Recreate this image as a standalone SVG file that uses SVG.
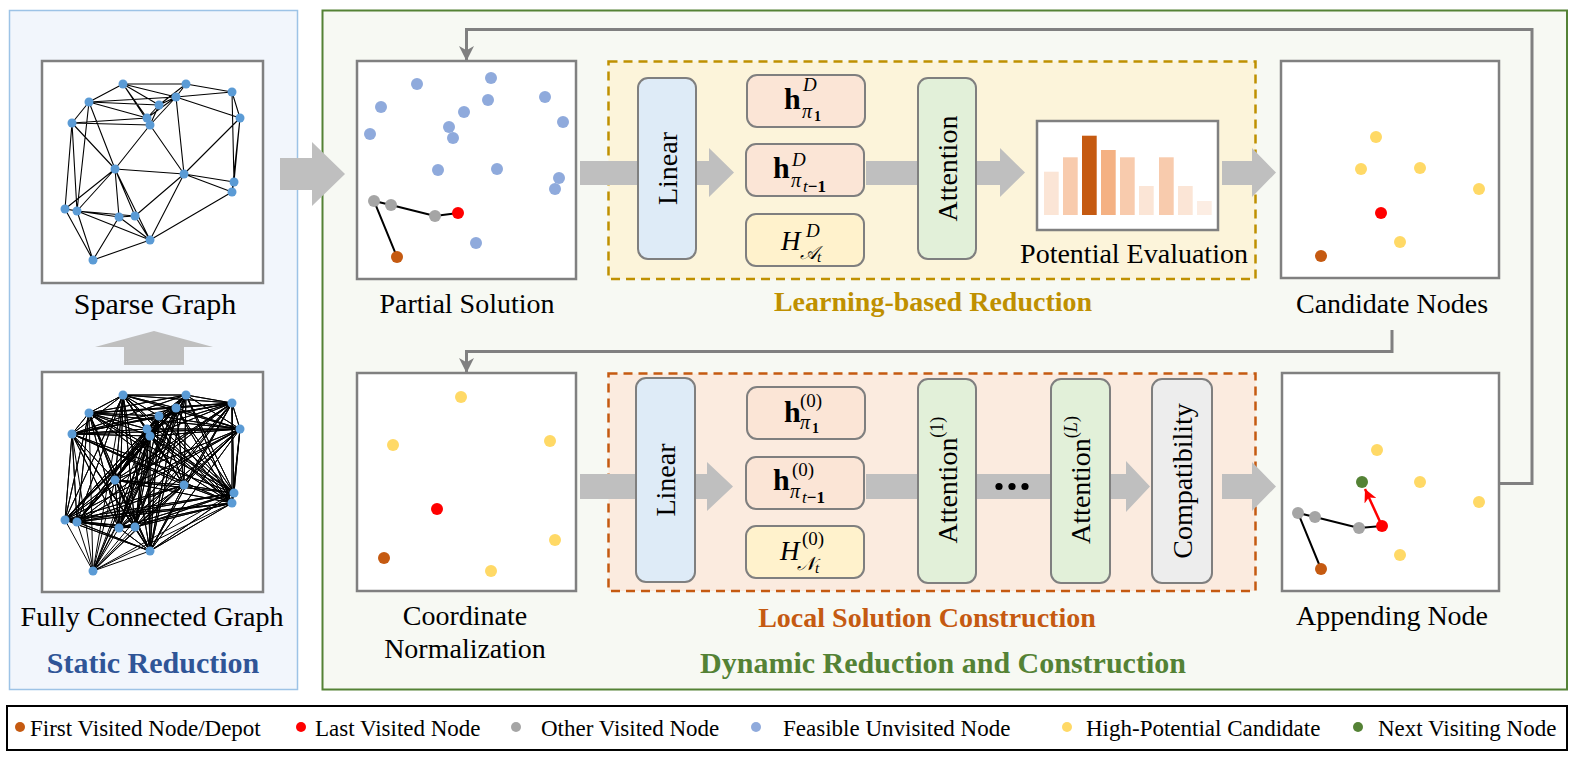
<svg xmlns="http://www.w3.org/2000/svg" xmlns:xlink="http://www.w3.org/1999/xlink" width="1579" height="760" viewBox="0 0 1579 760">
<style>
text{font-family:"Liberation Serif","Times New Roman",serif;fill:#000}
.lbl{font-size:28px;text-anchor:middle}
.leg{font-size:23px}
.frame{fill:#fff;stroke:#808080;stroke-width:2.5}
.blk{stroke:#7f7f7f;stroke-width:2}
.garrow{fill:#BFBFBF}
.fb{fill:none;stroke:#808080;stroke-width:3}
.edge{fill:none;stroke:#000;stroke-width:1.1}
.full polyline{fill:none;stroke:#000;stroke-width:1;stroke-linejoin:round}
.rot{font-size:28px;text-anchor:middle;dominant-baseline:central}
.hb{font-size:30px;font-weight:bold}
.it{font-style:italic}
.title{font-weight:bold;text-anchor:middle}
.scr{font-family:"DejaVu Serif","DejaVu Sans","Noto Sans",serif}
</style>
<defs>
<marker id="ga" viewBox="0 0 14 14" refX="14" refY="7" markerWidth="15" markerHeight="15" markerUnits="userSpaceOnUse" orient="auto"><path d="M0,0 L14,7 L0,14 L4,7 z" fill="#808080"/></marker>
<marker id="ra" viewBox="0 0 14 14" refX="14" refY="7" markerWidth="13" markerHeight="13" markerUnits="userSpaceOnUse" orient="auto"><path d="M0,0 L14,7 L0,14 L4,7 z" fill="#FF0000"/></marker>
<g id="gnodes" fill="#5B9BD5">
<circle cx="123" cy="84" r="4.5"/><circle cx="186" cy="84" r="4.5"/><circle cx="232" cy="92" r="4.5"/><circle cx="89" cy="102" r="4.5"/><circle cx="176" cy="97" r="4.5"/><circle cx="159" cy="105" r="4.5"/><circle cx="240" cy="118" r="4.5"/><circle cx="72" cy="123" r="4.5"/><circle cx="147" cy="118" r="4.5"/><circle cx="150" cy="125" r="4.5"/><circle cx="115" cy="169" r="4.5"/><circle cx="184" cy="174" r="4.5"/><circle cx="234" cy="182" r="4.5"/><circle cx="232" cy="192" r="4.5"/><circle cx="65" cy="209" r="4.5"/><circle cx="77" cy="211" r="4.5"/><circle cx="119" cy="217" r="4.5"/><circle cx="135" cy="216" r="4.5"/><circle cx="150" cy="240" r="4.5"/><circle cx="93" cy="260" r="4.5"/>
</g>
</defs>

<!-- panels -->
<g id="static-panel">
<rect x="9.5" y="10.5" width="288" height="679" fill="#F2F6FC" stroke="#9DC3E6" stroke-width="1.5"/>
<text x="153" y="673" class="title" font-size="30" style="fill:#2F5597">Static Reduction</text>
</g>
<g id="dynamic-panel">
<rect x="322.5" y="10.5" width="1244.5" height="679" fill="#F7F9F3" stroke="#548235" stroke-width="2"/>
<text x="943" y="673" class="title" font-size="30" style="fill:#548235">Dynamic Reduction and Construction</text>
</g>
<g id="learning-panel">
<rect x="608.5" y="61.5" width="647" height="217.5" fill="#FCF4DA" stroke="#BF9000" stroke-width="2.5" stroke-dasharray="9,6"/>
<text x="933" y="311" class="title" font-size="28" style="fill:#BF9000">Learning-based Reduction</text>
</g>
<g id="local-panel">
<rect x="608.5" y="373.5" width="647" height="217.5" fill="#FBEBDF" stroke="#C55A11" stroke-width="2.5" stroke-dasharray="9,6"/>
<text x="927" y="627" class="title" font-size="28" style="fill:#C55A11">Local Solution Construction</text>
</g>

<!-- connectors -->
<g id="connectors">
<polygon class="garrow" points="280,158 312,158 312,142 345,174 312,206 312,190 280,190"/>
<polygon class="garrow" points="124,365 124,347 95,347 154,331 213,347 184,347 184,365"/>
<rect class="garrow" x="580" y="161" width="62" height="24"/>
<polygon class="garrow" points="690,161 709,161 709,148 734,172.5 709,197 709,185 690,185"/>
<rect class="garrow" x="866" y="161" width="60" height="24"/>
<polygon class="garrow" points="970,161 1000,161 1000,148 1025,172.5 1000,197 1000,185 970,185"/>
<polygon class="garrow" points="1222,161 1252,161 1252,148 1276,172.5 1252,197 1252,185 1222,185"/>
<rect class="garrow" x="580" y="474" width="62" height="25"/>
<polygon class="garrow" points="690,474 707,474 707,462 733,486.5 707,511 707,499 690,499"/>
<rect class="garrow" x="866" y="474" width="60" height="25"/>
<rect class="garrow" x="970" y="474" width="86" height="25"/>
<polygon class="garrow" points="1105,474 1126,474 1126,461 1150,486.5 1126,512 1126,499 1105,499"/>
<polygon class="garrow" points="1222,474 1252,474 1252,462 1276,486.5 1252,511 1252,499 1222,499"/>
<g fill="#000"><circle cx="999" cy="486.5" r="3.6"/><circle cx="1012" cy="486.5" r="3.6"/><circle cx="1025" cy="486.5" r="3.6"/></g>
<path class="fb" d="M1499,483.5 H1532 V29.5 H466.5 V61" marker-end="url(#ga)"/>
<path class="fb" d="M1392,330 V351.5 H466.5 V373" marker-end="url(#ga)"/>
</g>

<!-- sparse graph -->
<g id="sparse-graph">
<rect class="frame" x="42" y="61" width="221" height="222"/>
<path class="edge" d="M123 84L186 84M123 84L89 102M123 84L159 105M123 84L147 118M123 84L150 125M123 84L176 97M186 84L232 92M186 84L176 97M186 84L159 105M232 92L176 97M232 92L240 118M89 102L176 97M89 102L159 105M89 102L72 123M89 102L147 118M89 102L115 169M89 102L77 211M176 97L159 105M176 97L147 118M176 97L150 125M176 97L184 174M159 105L147 118M159 105L150 125M240 118L176 97M240 118L184 174M240 118L234 182M240 118L232 192M232 92L234 182M72 123L147 118M72 123L150 125M72 123L115 169M72 123L65 209M72 123L77 211M147 118L150 125M150 125L115 169M150 125L184 174M115 169L184 174M115 169L65 209M115 169L77 211M115 169L119 217M115 169L135 216M115 169L150 240M184 174L234 182M184 174L232 192M184 174L150 240M184 174L135 216M234 182L232 192M232 192L150 240M65 209L77 211M65 209L93 260M77 211L119 217M77 211L135 216M77 211L150 240M77 211L93 260M119 217L135 216M119 217L150 240M119 217L93 260M135 216L150 240M150 240L93 260M65 209L119 217"/>
<use xlink:href="#gnodes" href="#gnodes"/>
<text x="155" y="314" class="lbl" font-size="30" style="font-size:30px">Sparse Graph</text>
</g>

<!-- fully connected graph -->
<g id="full-graph">
<rect class="frame" x="42" y="372" width="221" height="220"/>
<g class="full" transform="translate(0,311)">
<polyline points="123,84 186,84 123,84 232,92 123,84 89,102 123,84 176,97 123,84 159,105 123,84 240,118 123,84 72,123 123,84 147,118 123,84 150,125 123,84 115,169 123,84 184,174 123,84 234,182 123,84 232,192 123,84 65,209 123,84 77,211 123,84 119,217 123,84 135,216 123,84 150,240 123,84 93,260"/>
<polyline points="186,84 232,92 186,84 89,102 186,84 176,97 186,84 159,105 186,84 240,118 186,84 72,123 186,84 147,118 186,84 150,125 186,84 115,169 186,84 184,174 186,84 234,182 186,84 232,192 186,84 65,209 186,84 77,211 186,84 119,217 186,84 135,216 186,84 150,240 186,84 93,260"/>
<polyline points="232,92 89,102 232,92 176,97 232,92 159,105 232,92 240,118 232,92 72,123 232,92 147,118 232,92 150,125 232,92 115,169 232,92 184,174 232,92 234,182 232,92 232,192 232,92 65,209 232,92 77,211 232,92 119,217 232,92 135,216 232,92 150,240 232,92 93,260"/>
<polyline points="89,102 176,97 89,102 159,105 89,102 240,118 89,102 72,123 89,102 147,118 89,102 150,125 89,102 115,169 89,102 184,174 89,102 234,182 89,102 232,192 89,102 65,209 89,102 77,211 89,102 119,217 89,102 135,216 89,102 150,240 89,102 93,260"/>
<polyline points="176,97 159,105 176,97 240,118 176,97 72,123 176,97 147,118 176,97 150,125 176,97 115,169 176,97 184,174 176,97 234,182 176,97 232,192 176,97 65,209 176,97 77,211 176,97 119,217 176,97 135,216 176,97 150,240 176,97 93,260"/>
<polyline points="159,105 240,118 159,105 72,123 159,105 147,118 159,105 150,125 159,105 115,169 159,105 184,174 159,105 234,182 159,105 232,192 159,105 65,209 159,105 77,211 159,105 119,217 159,105 135,216 159,105 150,240 159,105 93,260"/>
<polyline points="240,118 72,123 240,118 147,118 240,118 150,125 240,118 115,169 240,118 184,174 240,118 234,182 240,118 232,192 240,118 65,209 240,118 77,211 240,118 119,217 240,118 135,216 240,118 150,240 240,118 93,260"/>
<polyline points="72,123 147,118 72,123 150,125 72,123 115,169 72,123 184,174 72,123 234,182 72,123 232,192 72,123 65,209 72,123 77,211 72,123 119,217 72,123 135,216 72,123 150,240 72,123 93,260"/>
<polyline points="147,118 150,125 147,118 115,169 147,118 184,174 147,118 234,182 147,118 232,192 147,118 65,209 147,118 77,211 147,118 119,217 147,118 135,216 147,118 150,240 147,118 93,260"/>
<polyline points="150,125 115,169 150,125 184,174 150,125 234,182 150,125 232,192 150,125 65,209 150,125 77,211 150,125 119,217 150,125 135,216 150,125 150,240 150,125 93,260"/>
<polyline points="115,169 184,174 115,169 234,182 115,169 232,192 115,169 65,209 115,169 77,211 115,169 119,217 115,169 135,216 115,169 150,240 115,169 93,260"/>
<polyline points="184,174 234,182 184,174 232,192 184,174 65,209 184,174 77,211 184,174 119,217 184,174 135,216 184,174 150,240 184,174 93,260"/>
<polyline points="234,182 232,192 234,182 65,209 234,182 77,211 234,182 119,217 234,182 135,216 234,182 150,240 234,182 93,260"/>
<polyline points="232,192 65,209 232,192 77,211 232,192 119,217 232,192 135,216 232,192 150,240 232,192 93,260"/>
<polyline points="65,209 77,211 65,209 119,217 65,209 135,216 65,209 150,240 65,209 93,260"/>
<polyline points="77,211 119,217 77,211 135,216 77,211 150,240 77,211 93,260"/>
<polyline points="119,217 135,216 119,217 150,240 119,217 93,260"/>
<polyline points="135,216 150,240 135,216 93,260"/>
<polyline points="150,240 93,260"/>
<use xlink:href="#gnodes" href="#gnodes"/>
</g>
<text x="152" y="626" class="lbl">Fully Connected Graph</text>
</g>

<!-- partial solution -->
<g id="partial-solution">
<rect class="frame" x="357" y="61" width="219" height="218"/>
<g fill="#8FAADC">
<circle cx="417" cy="84" r="6"/><circle cx="491" cy="78" r="6"/><circle cx="381" cy="107" r="6"/><circle cx="464" cy="112" r="6"/><circle cx="488" cy="100" r="6"/><circle cx="545" cy="97" r="6"/><circle cx="563" cy="122" r="6"/><circle cx="370" cy="134" r="6"/><circle cx="449" cy="127" r="6"/><circle cx="453" cy="138" r="6"/><circle cx="438" cy="170" r="6"/><circle cx="497" cy="169" r="6"/><circle cx="559" cy="178" r="6"/><circle cx="555" cy="189" r="6"/><circle cx="476" cy="243" r="6"/>
</g>
<polyline points="397,257 374,201 391,205 435,216 458,213" fill="none" stroke="#000" stroke-width="2"/>
<circle cx="374" cy="201" r="6" fill="#A5A5A5"/><circle cx="391" cy="205" r="6" fill="#A5A5A5"/><circle cx="435" cy="216" r="6" fill="#A5A5A5"/>
<circle cx="458" cy="213" r="6" fill="#FF0000"/><circle cx="397" cy="257" r="6" fill="#C55A11"/>
<text x="467" y="313" class="lbl">Partial Solution</text>
</g>

<!-- learning-based reduction blocks -->
<g id="linear-top">
<rect class="blk" x="638" y="78" width="58" height="181" rx="10" fill="#DEEBF7"/>
<text class="rot" transform="translate(667,168.5) rotate(-90)">Linear</text>
</g>
<g id="h-pi1-top">
<rect class="blk" x="747" y="75" width="118" height="52" rx="10" fill="#FBE5D6"/>
<text x="784" y="109" class="hb">h</text>
<text x="803" y="91" class="it" font-size="19">D</text>
<text x="802" y="118" class="it" font-size="20">π</text>
<text x="814" y="121" font-size="14" font-weight="bold">1</text>
</g>
<g id="h-pit-top">
<rect class="blk" x="746" y="144" width="118" height="52" rx="10" fill="#FBE5D6"/>
<text x="773" y="178" class="hb">h</text>
<text x="792" y="166" class="it" font-size="19">D</text>
<text x="791" y="187" class="it" font-size="20">π</text>
<text x="803" y="192" font-size="17"><tspan font-style="italic">t</tspan><tspan font-weight="bold">−1</tspan></text>
</g>
<g id="H-A-top">
<rect class="blk" x="746" y="214" width="118" height="52" rx="10" fill="#FFF2CC"/>
<text x="781" y="250" class="it" font-size="27">H</text>
<text x="806" y="237" class="it" font-size="19">D</text>
<text x="800" y="259" class="it scr" font-size="19">𝒜</text>
<text x="817" y="262" class="it" font-size="15">t</text>
</g>
<g id="attention-top">
<rect class="blk" x="918" y="78" width="58" height="181" rx="10" fill="#E2F0D9"/>
<text class="rot" transform="translate(947,168.5) rotate(-90)">Attention</text>
</g>
<g id="potential-evaluation">
<rect x="1037" y="121" width="181" height="109" fill="#fff" stroke="#808080" stroke-width="2.5"/>
<rect x="1044" y="171.7" width="14.7" height="43.3" fill="#FBE5D6"/>
<rect x="1063" y="157.3" width="14.7" height="57.7" fill="#F8CBAD"/>
<rect x="1082" y="135.7" width="14.7" height="79.3" fill="#C55A11"/>
<rect x="1101" y="150" width="14.7" height="65" fill="#F4B183"/>
<rect x="1120" y="157.3" width="14.7" height="57.7" fill="#F8CBAD"/>
<rect x="1139" y="186" width="14.7" height="29" fill="#FBE5D6"/>
<rect x="1159" y="157.3" width="14.7" height="57.7" fill="#F8CBAD"/>
<rect x="1178" y="186" width="14.7" height="29" fill="#FBE5D6"/>
<rect x="1197" y="201" width="14.7" height="14" fill="#FCEDE3"/>
<text x="1134" y="263" class="lbl">Potential Evaluation</text>
</g>

<!-- candidate nodes -->
<g id="candidate-nodes">
<rect class="frame" x="1281" y="61" width="218" height="217"/>
<g fill="#FFD966"><circle cx="1376" cy="137" r="6"/><circle cx="1361" cy="169" r="6"/><circle cx="1420" cy="168" r="6"/><circle cx="1479" cy="189" r="6"/><circle cx="1400" cy="242" r="6"/></g>
<circle cx="1381" cy="213" r="6" fill="#FF0000"/><circle cx="1321" cy="256" r="6" fill="#C55A11"/>
<text x="1392" y="313" class="lbl">Candidate Nodes</text>
</g>

<!-- coordinate normalization -->
<g id="coordinate-normalization">
<rect class="frame" x="357" y="373" width="219" height="218"/>
<g fill="#FFD966"><circle cx="461" cy="397" r="6"/><circle cx="393" cy="445" r="6"/><circle cx="550" cy="441" r="6"/><circle cx="555" cy="540" r="6"/><circle cx="491" cy="571" r="6"/></g>
<circle cx="437" cy="509" r="6" fill="#FF0000"/><circle cx="384" cy="558" r="6" fill="#C55A11"/>
<text x="465" y="625" class="lbl">Coordinate</text>
<text x="465" y="658" class="lbl">Normalization</text>
</g>

<!-- local solution construction blocks -->
<g id="linear-bottom">
<rect class="blk" x="636" y="378" width="59" height="204" rx="10" fill="#DEEBF7"/>
<text class="rot" transform="translate(665.5,480) rotate(-90)">Linear</text>
</g>
<g id="h-pi1-bottom">
<rect class="blk" x="747" y="387" width="118" height="52" rx="10" fill="#FBE5D6"/>
<text x="784" y="422" class="hb">h</text>
<text x="800" y="407" font-size="19">(0)</text>
<text x="800" y="429" class="it" font-size="20">π</text>
<text x="812" y="433" font-size="14" font-weight="bold">1</text>
</g>
<g id="h-pit-bottom">
<rect class="blk" x="746" y="457" width="118" height="52" rx="10" fill="#FBE5D6"/>
<text x="773" y="490" class="hb">h</text>
<text x="792" y="476" font-size="19">(0)</text>
<text x="790" y="498" class="it" font-size="20">π</text>
<text x="802" y="503" font-size="17"><tspan font-style="italic">t</tspan><tspan font-weight="bold">−1</tspan></text>
</g>
<g id="H-N-bottom">
<rect class="blk" x="746" y="526" width="118" height="52" rx="10" fill="#FFF2CC"/>
<text x="780" y="560" class="it" font-size="27">H</text>
<text x="802" y="545" font-size="19">(0)</text>
<text x="797" y="570" class="it scr" font-size="19">𝒩</text>
<text x="815" y="573" class="it" font-size="15">t</text>
</g>
<g id="attention-1">
<rect class="blk" x="918" y="379" width="58" height="204" rx="10" fill="#E2F0D9"/>
<text class="rot" transform="translate(947,480) rotate(-90)">Attention<tspan baseline-shift="super" font-size="18">(1)</tspan></text>
</g>
<g id="attention-L">
<rect class="blk" x="1051" y="379" width="59" height="204" rx="10" fill="#E2F0D9"/>
<text class="rot" transform="translate(1080.5,480) rotate(-90)">Attention<tspan baseline-shift="super" font-size="18">(<tspan font-style="italic">L</tspan>)</tspan></text>
</g>
<g id="compatibility">
<rect class="blk" x="1152" y="379" width="60" height="204" rx="10" fill="#EDEDED"/>
<text class="rot" transform="translate(1182,481) rotate(-90)">Compatibility</text>
</g>

<!-- appending node -->
<g id="appending-node">
<rect class="frame" x="1282" y="373" width="217" height="218"/>
<g fill="#FFD966"><circle cx="1377" cy="450" r="6"/><circle cx="1420" cy="482" r="6"/><circle cx="1479" cy="502" r="6"/><circle cx="1400" cy="555" r="6"/></g>
<polyline points="1321,569 1298,513 1315,517 1359,528 1382,526" fill="none" stroke="#000" stroke-width="2"/>
<line x1="1382" y1="526" x2="1365" y2="489" stroke="#FF0000" stroke-width="2.5" marker-end="url(#ra)"/>
<circle cx="1298" cy="513" r="6" fill="#A5A5A5"/><circle cx="1315" cy="517" r="6" fill="#A5A5A5"/><circle cx="1359" cy="528" r="6" fill="#A5A5A5"/>
<circle cx="1382" cy="526" r="6" fill="#FF0000"/><circle cx="1321" cy="569" r="6" fill="#C55A11"/>
<circle cx="1362" cy="482" r="6" fill="#548235"/>
<text x="1392" y="625" class="lbl">Appending Node</text>
</g>

<!-- legend -->
<g id="legend">
<rect x="7" y="706" width="1560" height="44" fill="#fff" stroke="#000" stroke-width="2"/>
<circle cx="20" cy="727" r="5" fill="#C55A11"/><text x="30" y="735.5" class="leg">First Visited Node/Depot</text>
<circle cx="301" cy="727" r="5" fill="#FF0000"/><text x="315" y="735.5" class="leg">Last Visited Node</text>
<circle cx="516" cy="727" r="5" fill="#A5A5A5"/><text x="541" y="735.5" class="leg">Other Visited Node</text>
<circle cx="756" cy="727" r="5" fill="#8FAADC"/><text x="783" y="735.5" class="leg">Feasible Unvisited Node</text>
<circle cx="1067" cy="727" r="5" fill="#FFD966"/><text x="1086" y="735.5" class="leg">High-Potential Candidate</text>
<circle cx="1358" cy="727" r="5" fill="#548235"/><text x="1378" y="735.5" class="leg">Next Visiting Node</text>
</g>
</svg>
